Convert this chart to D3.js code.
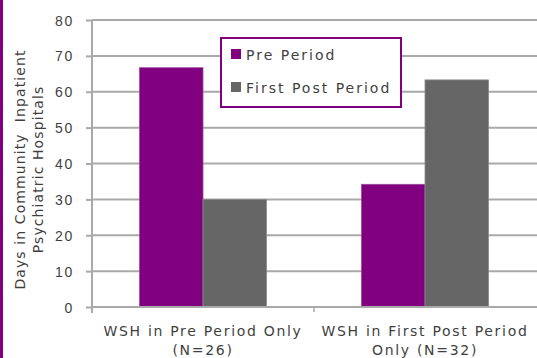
<!DOCTYPE html>
<html>
<head>
<meta charset="utf-8">
<script src="https://cdn.jsdelivr.net/npm/d3@7"></script>
<style>
  html, body { margin: 0; padding: 0; background: #fff; }
  svg { display: block; font-family: "DejaVu Sans", Verdana, sans-serif; }
  .lbl { font-size: 14px; letter-spacing: 1.7px; fill: #3f3f3f; }
  .ttl { font-size: 14px; letter-spacing: 1.1px; fill: #3f3f3f; }
  .leg { font-size: 14px; letter-spacing: 2px; fill: #3f3f3f; }
</style>
</head>
<body>
<svg id="chart" width="537" height="358"></svg>
<script>
// Category labels (two lines each), series names and values
const categories = ["WSH in Pre Period Only|(N=26)", "WSH in First Post Period|Only (N=32)"];
const seriesNames = ["Pre Period", "First Post Period"];
const prePeriod = [66.7, 34.2];
const firstPostPeriod = [30.0, 63.3];
const yTicks = [0, 10, 20, 30, 40, 50, 60, 70, 80];
const colors = ["#800080", "#666666"];

const svg = d3.select("#chart");
const W = 537, H = 358;
const m = { left: 92, top: 20, right: 1, bottom: 51 };

// purple strip on the left edge
svg.append("rect").attr("x", 0).attr("y", 0).attr("width", 3).attr("height", H).attr("fill", "#800080");

const x = d3.scaleBand().domain(categories).range([m.left, W - m.right]).paddingInner(0).paddingOuter(0);
const xs = d3.scaleBand().domain(seriesNames).range([0, x.bandwidth()]).paddingInner(0).paddingOuter(0.748);
const y = d3.scaleLinear().domain([0, 80]).range([H - m.bottom, m.top]);

// horizontal gridlines
svg.append("g").selectAll("line").data(yTicks.filter(d => d > 0)).join("line")
  .attr("x1", m.left).attr("x2", W)
  .attr("y1", d => y(d)).attr("y2", d => y(d))
  .attr("stroke", "#a9a9a9").attr("stroke-width", 2);

// bars
const rows = categories.map((c, i) => ({ c, vals: [prePeriod[i], firstPostPeriod[i]] }));
const g = svg.append("g").selectAll("g").data(rows).join("g")
  .attr("transform", d => `translate(${x(d.c)},0)`);
g.selectAll("rect").data(d => d.vals.map((v, k) => ({ k, v }))).join("rect")
  .attr("x", d => xs(seriesNames[d.k]))
  .attr("width", xs.bandwidth())
  .attr("y", d => y(d.v))
  .attr("height", d => y(0) - y(d.v))
  .attr("fill", d => colors[d.k])
  .attr("stroke", d => d.k === 0 ? "#9a4a9a" : "#8a8a8a")
  .attr("stroke-width", 0.8);

// y axis
const yAxis = d3.axisLeft(y).tickValues(yTicks).tickSize(6).tickPadding(12);
const ya = svg.append("g").attr("transform", `translate(${m.left},0)`).call(yAxis);
ya.select(".domain").attr("stroke", "#a9a9a9").attr("stroke-width", 2)
  .attr("d", `M0,${m.top}V${y(0) + 6}`);
ya.selectAll(".tick line").attr("stroke", "#a9a9a9").attr("stroke-width", 2);
ya.selectAll(".tick text").attr("class", "lbl").attr("font-family", null).attr("font-size", null)
  .attr("fill", null).attr("dy", "0.36em");

// x axis baseline and category ticks
svg.append("line").attr("x1", m.left).attr("x2", W).attr("y1", y(0)).attr("y2", y(0))
  .attr("stroke", "#a9a9a9").attr("stroke-width", 2);
svg.append("g").selectAll("line").data(categories.slice(1)).join("line")
  .attr("x1", d => x(d)).attr("x2", d => x(d))
  .attr("y1", y(0)).attr("y2", y(0) + 5)
  .attr("stroke", "#a9a9a9").attr("stroke-width", 1.5);

// category labels
svg.append("g").selectAll("text").data(categories).join("text")
  .attr("class", "lbl").attr("text-anchor", "middle")
  .attr("x", d => x(d) + x.bandwidth() / 2)
  .attr("y", y(0) + 29)
  .each(function (d) {
    const parts = d.split("|");
    d3.select(this).selectAll("tspan").data(parts).join("tspan")
      .attr("x", x(d) + x.bandwidth() / 2)
      .attr("dy", (p, i) => i === 0 ? 0 : 19)
      .text(p => p);
  });

// y axis title
const yTitle = ["Days in Community  Inpatient", "Psychiatric Hospitals"];
svg.append("g").attr("transform", `translate(0,${(y(0) + y(80)) / 2 + 6}) rotate(-90)`)
  .selectAll("text").data(yTitle).join("text")
  .attr("class", "ttl").attr("text-anchor", "middle")
  .attr("x", 0).attr("y", (d, i) => 25 + i * 18)
  .style("white-space", "pre")
  .text(d => d);

// legend
const lg = svg.append("g").attr("transform", "translate(221,38)");
lg.append("rect").attr("width", 180).attr("height", 69).attr("fill", "#fff")
  .attr("stroke", "#800080").attr("stroke-width", 2);
const li = lg.selectAll("g").data(seriesNames).join("g")
  .attr("transform", (d, i) => `translate(10,${11 + i * 33})`);
li.append("rect").attr("width", 10).attr("height", 10).attr("fill", (d, i) => colors[i]);
li.append("text").attr("class", "leg").attr("x", 15).attr("y", 10.5).text(d => d);
</script>
</body>
</html>
